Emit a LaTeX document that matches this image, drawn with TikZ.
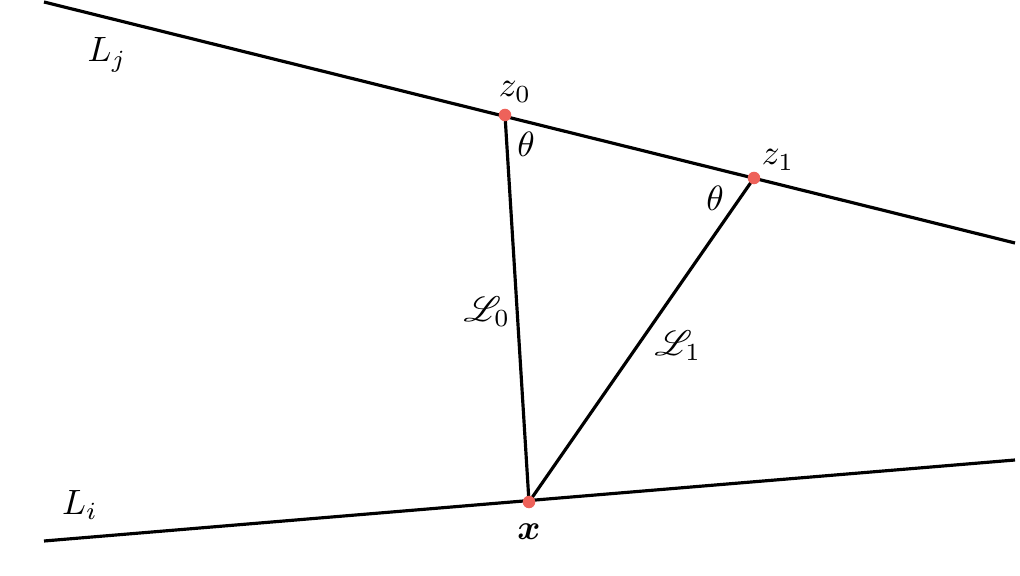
\documentclass[tikz,border=0pt]{standalone}
\usepackage{tikz}
\usetikzlibrary{positioning,calc}
\usepackage{amsmath}
\usepackage{amssymb}
\usepackage{mathrsfs}
\usepackage{xcolor}
\definecolor{pointred}{RGB}{238,98,90}

\begin{document}
\begin{tikzpicture}[
    x=0.01cm, y=-0.01cm,
    line/.style={line width=0.9pt},
    pt/.style={circle, fill=pointred, inner sep=0pt, minimum size=0.125cm},
    lbl/.style={inner sep=1pt}
]
    \useasboundingbox (0,0) rectangle (1020,576);
    \coordinate (lj1) at (44,2);
    \coordinate (lj2) at (1015,243);
    \coordinate (li1) at (44,541);
    \coordinate (li2) at (1015,460);
    \coordinate (z0) at (505,115);
    \coordinate (z1) at (754,178);
    \coordinate (x) at (529,502);

    \draw[line] (lj1) -- (lj2);
    \draw[line] (li1) -- (li2);
    \draw[line] (z0) -- (x);
    \draw[line] (z1) -- (x);

    \node[pt] (z0dot) at (z0) {};
    \node[pt] (z1dot) at (z1) {};
    \node[pt] (xdot) at (x) {};

    \node[lbl] (Lj) at (107,55) {$L_j$};
    \node[lbl] (Li) at (80,505) {$L_i$};
    \node[lbl] (z0lbl) at (515,92) {$z_0$};
    \node[lbl] (z1lbl) at (778,160) {$z_1$};
    \node[lbl] (theta0) at (526,144) {$\theta$};
    \node[lbl] (theta1) at (715,198) {$\theta$};
    \node[lbl] (cL0) at (487,312) {$\mathscr{L}_0$};
    \node[lbl] (cL1) at (678,346) {$\mathscr{L}_1$};
    \node[lbl] (xlbl) at (529,532) {$\boldsymbol{x}$};
\end{tikzpicture}
\end{document}
